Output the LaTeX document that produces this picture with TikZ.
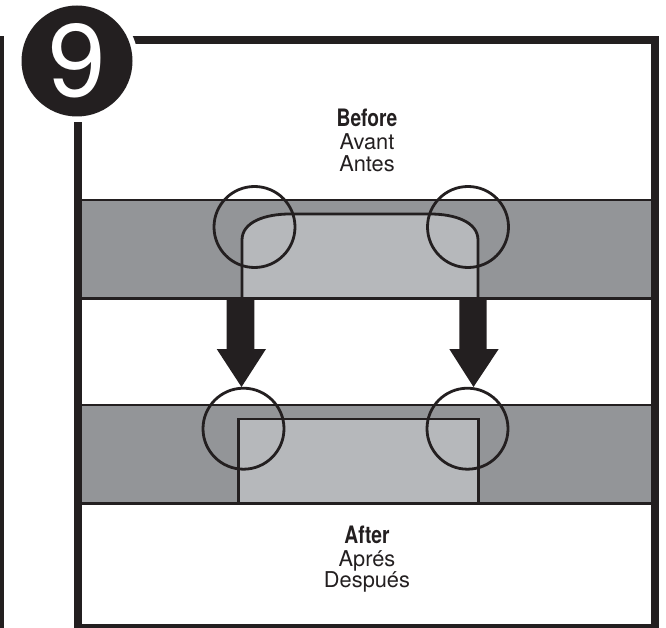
\documentclass[tikz,border=0pt]{standalone}
\usepackage{fontspec}
\setmainfont{TeX Gyre Heros}
\definecolor{inkblack}{HTML}{231F20}
\definecolor{banddark}{HTML}{939598}
\definecolor{bandlight}{HTML}{B6B8BB}
\tikzset{
  band/.style={fill=banddark,draw=inkblack,line width=2.8pt},
  part/.style={fill=bandlight,draw=inkblack,line width=2.8pt},
  zone/.style={draw=inkblack,line width=2.8pt},
  heading/.style={text=inkblack,anchor=base,inner sep=0pt,font=\bfseries\fontsize{24}{24}\selectfont,xscale=.8},
  caption/.style={text=inkblack,anchor=base,inner sep=0pt,font=\fontsize{21.8}{22}\selectfont}
}
\begin{document}
\begin{tikzpicture}[x=1pt,y=-1pt]
\useasboundingbox (0,0) rectangle (666,628);
\clip (0,0) rectangle (666,628);
% bands
\draw[band] (80,200) rectangle (653,298);
\draw[band] (80,405) rectangle (653,503);
% parts
\draw[part] (242,298) -- (242,240) .. controls (242,222) and (265,214) .. (290,214)
  -- (430,214) .. controls (455,214) and (478,222) .. (478,240) -- (478,298);
\draw[part] (238.5,503) rectangle (478.5,419);
\draw[inkblack,line width=3pt] (80,298) -- (653,298) (80,503) -- (653,503);
% frame
\draw[inkblack,line width=8pt] (78,40) rectangle (655,628);
\fill[inkblack] (0,36) rectangle (4,628);
\draw[inkblack,line width=4pt] (78,626) -- (655,626);
% arrows
\fill[inkblack] (226.7,298) -- (254.3,298) -- (254.3,349) -- (266,349) -- (241.5,387) -- (216.7,349) -- (226.7,349) -- cycle;
\fill[inkblack] (459.3,298) -- (486.7,298) -- (486.7,349) -- (498.7,349) -- (473.5,387) -- (449.3,349) -- (459.3,349) -- cycle;
% circles
\draw[zone] (254.5,227) circle (40.5);
\draw[zone] (468,227) circle (40.5);
\draw[zone] (243.5,428.7) circle (40.5);
\draw[zone] (467.5,428.7) circle (40.5);
% number
\fill[white] (77,61) circle (61);
\fill[inkblack] (77,61) circle (55.5);
\node[text=white,anchor=base,inner sep=0pt,font=\fontsize{103}{103}\selectfont] (number) at (77.5,97) {9};
% labels
\node[heading] (before) at (367,126.7) {Before};
\node[caption] (avant) at (367,149.3) {Avant};
\node[caption] (antes) at (367,171.7) {Antes};
\node[heading] (after) at (367,543) {After};
\node[caption] (apres) at (367,566) {Aprés};
\node[caption] (despues) at (367,587) {Después};
\end{tikzpicture}
\end{document}
